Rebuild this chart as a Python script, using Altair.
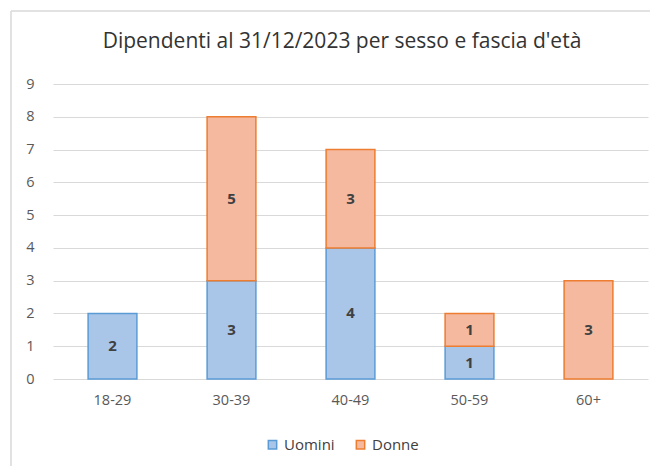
import altair as alt
import pandas as pd

categories = ["18-29", "30-39", "40-49", "50-59", "60+"]
uomini = [2, 3, 4, 1, 0]
donne = [0, 5, 3, 1, 3]
series = ["Uomini", "Donne"]
y_ticks = [0, 1, 2, 3, 4, 5, 6, 7, 8, 9]
title_text = "Dipendenti al 31/12/2023 per sesso e fascia d'età"

rows = []
for i, c in enumerate(categories):
    rows.append({"fascia": c, "sesso": "Uomini", "n": uomini[i], "ord": 0})
    rows.append({"fascia": c, "sesso": "Donne", "n": donne[i], "ord": 1})
df = pd.DataFrame(rows)

FONT = "Open Sans"
fills = ["#A9C5E8", "#F5B9A0"]
strokes = ["#5B9BD5", "#ED7D31"]

base = alt.Chart(df).transform_filter("datum.n > 0").transform_stack(
    stack="n", groupby=["fascia"], as_=["y0", "y1"], sort=[alt.SortField("ord")]
).transform_calculate(mid="(datum.y0 + datum.y1) / 2")

xscale = alt.Scale(paddingInner=0.59, paddingOuter=0.295)
yscale = alt.Scale(domain=[0, 9], nice=False)
yaxis = alt.Axis(values=y_ticks, tickCount=10, ticks=False, domain=False, labelPadding=19,
                 labelFontSize=14.5, labelColor="#595959", labelFont=FONT,
                 gridColor="#D9D9D9", gridWidth=1, labelOverlap=False)
xaxis = alt.Axis(labelAngle=0, ticks=False, domain=False, labelPadding=14,
                 labelFontSize=14.5, labelColor="#595959", labelFont=FONT)

bars = base.mark_bar(strokeWidth=1.5).encode(
    x=alt.X("fascia:N", sort=categories, title=None, scale=xscale, axis=xaxis),
    y=alt.Y("y0:Q", title=None, scale=yscale, axis=yaxis),
    y2="y1:Q",
    color=alt.Color("sesso:N", sort=series,
                    scale=alt.Scale(domain=series, range=fills),
                    legend=alt.Legend(title=None, orient="none", legendX=212, legendY=353,
                                      direction="horizontal", symbolType="square",
                                      symbolSize=70, symbolStrokeWidth=1.5,
                                      labelFontSize=15, labelColor="#404040", labelFont=FONT,
                                      labelOffset=4, columnPadding=18)),
    stroke=alt.Stroke("sesso:N", sort=series,
                      scale=alt.Scale(domain=series, range=strokes), legend=None),
)

labels = base.mark_text(fontSize=15, fontWeight="bold", color="#404040", font=FONT).encode(
    x=alt.X("fascia:N", sort=categories, title=None, scale=xscale, axis=xaxis),
    y=alt.Y("mid:Q", title=None, scale=yscale, axis=yaxis),
    text=alt.Text("n:Q"),
)

title_df = pd.DataFrame({"t": [title_text]})
title = alt.Chart(title_df).mark_text(fontSize=21, color="#333333", font=FONT).encode(
    x=alt.value(289), y=alt.value(-42), text="t:N"
)

frame_df = pd.DataFrame({"k": [0]})
frame_left = alt.Chart(frame_df).mark_rule(color="#D9D9D9", strokeWidth=1.5, clip=False).encode(
    x=alt.value(-42), y=alt.value(-73), y2=alt.value(400)
)
frame_top = alt.Chart(frame_df).mark_rule(color="#D9D9D9", strokeWidth=1.5, clip=False).encode(
    x=alt.value(-42), x2=alt.value(620), y=alt.value(-73)
)

chart = alt.layer(frame_left, frame_top, bars, labels, title).properties(
    width=595, height=295,
    autosize=alt.AutoSizeParams(type="none"),
    padding={"left": 45, "top": 76, "right": 2, "bottom": 87},
).configure_view(stroke=None)

chart.save("out.html", embed_options={"renderer": "svg", "actions": False})
